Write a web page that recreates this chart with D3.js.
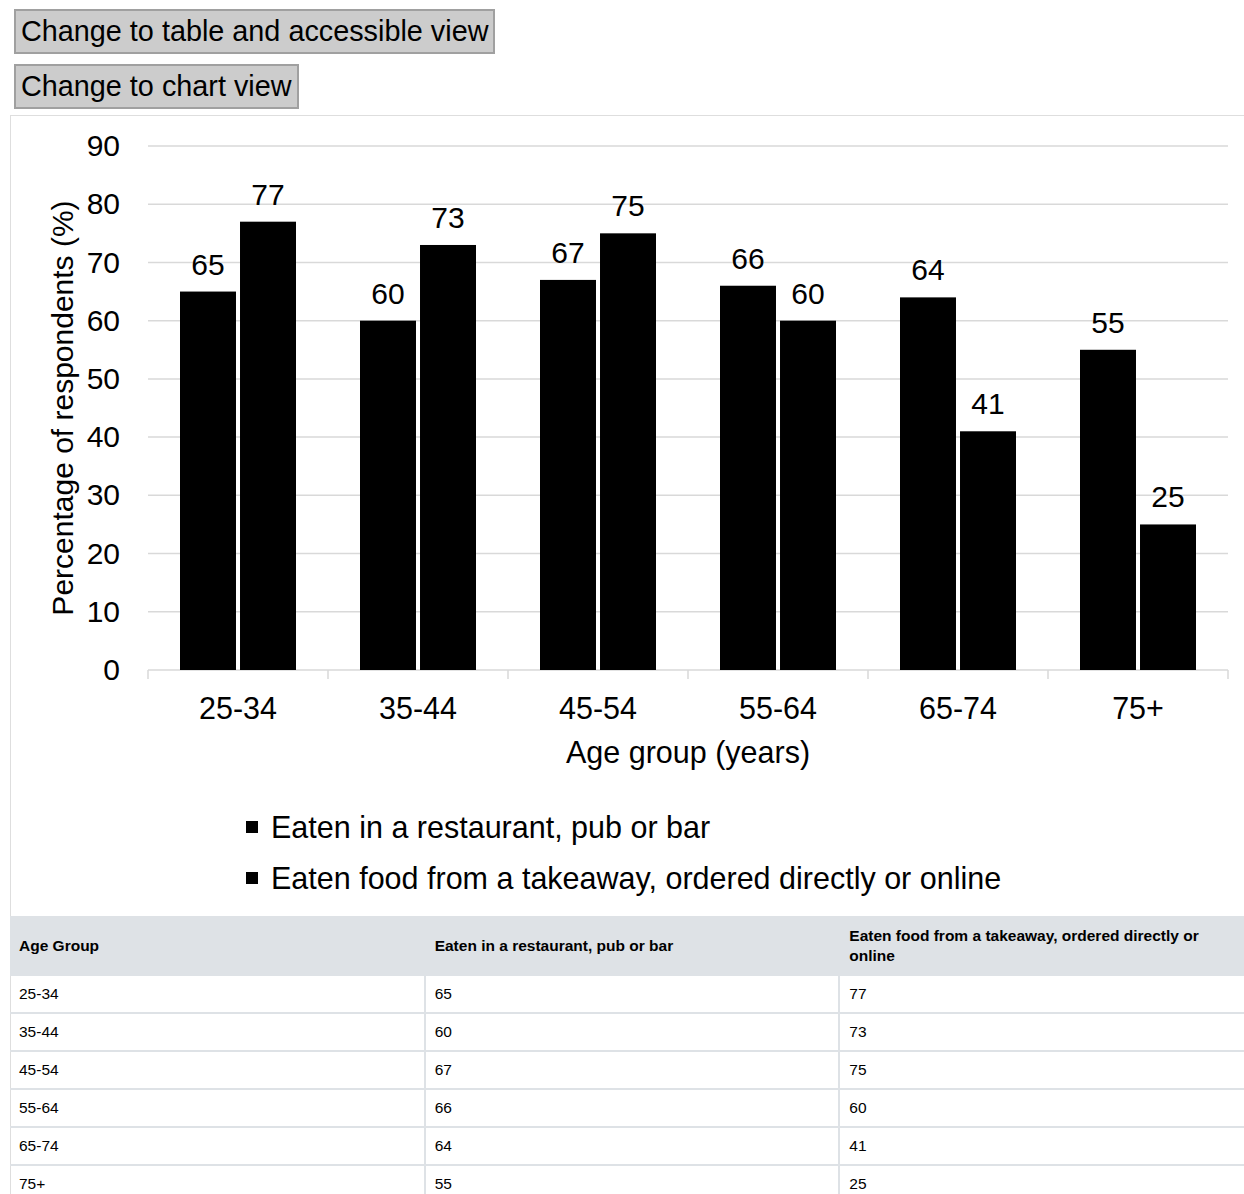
<!DOCTYPE html>
<html>
<head>
<meta charset="utf-8">
<script src="https://cdn.jsdelivr.net/npm/d3@7"></script>
<style>
  html, body { margin: 0; padding: 0; overflow: hidden; background: #fff; }
  body { width: 1244px; height: 1194px; position: relative; font-family: "Liberation Sans", Arial, sans-serif; color: #000; }
  .btn {
    position: absolute; left: 14px; height: 45px; box-sizing: border-box;
    background: #cccccc; border: 2px solid #a0a0a0; font-family: inherit;
    font-size: 28.8px; line-height: 41px; padding: 0 5px; color: #000; white-space: nowrap;
  }
  #wrap { position: absolute; left: 10px; top: 115px; width: 1260px; height: 1100px;
    border: 1px solid #dedede; box-sizing: border-box; }
  #chart { position: absolute; left: 0; top: 0; }
  table { position: absolute; left: 10px; top: 916px; width: 1245px; border-collapse: collapse;
    table-layout: fixed; font-size: 15.5px; }
  th, td { text-align: left; padding: 0 9px; border: 2px solid #dee2e6; vertical-align: middle; }
  thead th { background: #dee2e6; height: 56px; font-weight: bold; line-height: 20px; border-left-color: #eceef0; }
  td { height: 36px; border-top: none; }
  tr td:first-child, tr th:first-child { border-left: none; }
</style>
</head>
<body>
<div class="btn" style="top:9px;">Change to table and accessible view</div>
<div class="btn" style="top:64px;">Change to chart view</div>
<div id="wrap"></div>
<svg id="chart" width="1244" height="915"></svg>
<table id="tbl"></table>
<script>
// Age groups and survey results (percentage of respondents)
const ageGroups = ["25-34", "35-44", "45-54", "55-64", "65-74", "75+"];
const seriesNames = ["Eaten in a restaurant, pub or bar", "Eaten food from a takeaway, ordered directly or online"];
const restaurant = [65, 60, 67, 66, 64, 55];
const takeaway = [77, 73, 75, 60, 41, 25];
const yTicks = [0, 10, 20, 30, 40, 50, 60, 70, 80, 90];
const tableHeaders = ["Age Group", "Eaten in a restaurant, pub or bar", "Eaten food from a takeaway, ordered directly or online"];

const seriesValues = [restaurant, takeaway];
const font = '"Liberation Sans", Arial, sans-serif';

const svg = d3.select("#chart").style("font-family", font);

const plot = { left: 148, right: 1228, top: 146, bottom: 670 };

const x0 = d3.scaleBand().domain(ageGroups).range([plot.left, plot.right]).padding(0);
const x1 = d3.scaleBand().domain(d3.range(seriesNames.length))
  .range([32, x0.bandwidth() - 32]).paddingInner(0.067).paddingOuter(0);
const y = d3.scaleLinear().domain([0, 90]).range([plot.bottom, plot.top]);

// Horizontal gridlines
svg.append("g").selectAll("line").data(yTicks.filter(d => d > 0)).join("line")
  .attr("x1", plot.left).attr("x2", plot.right)
  .attr("y1", d => y(d)).attr("y2", d => y(d))
  .attr("stroke", "#d9d9d9").attr("stroke-width", 1.5);

// Y axis labels
const yAxis = d3.axisLeft(y).tickValues(yTicks).tickSize(0).tickPadding(28);
const yg = svg.append("g").attr("transform", `translate(${plot.left},0)`).call(yAxis);
yg.select(".domain").remove();
yg.selectAll("text").attr("font-size", 30).attr("font-family", font).attr("fill", "#000");

// X axis with category boundary ticks
const xg = svg.append("g");
xg.append("line").attr("x1", plot.left).attr("x2", plot.right)
  .attr("y1", plot.bottom).attr("y2", plot.bottom)
  .attr("stroke", "#d9d9d9").attr("stroke-width", 1.5);
const boundaries = ageGroups.map(d => x0(d)).concat([plot.right]);
xg.selectAll("line.tick").data(boundaries).join("line").attr("class", "tick")
  .attr("x1", d => d).attr("x2", d => d)
  .attr("y1", plot.bottom).attr("y2", plot.bottom + 9)
  .attr("stroke", "#d9d9d9").attr("stroke-width", 1.5);
const xAxis = d3.axisBottom(x0).tickSize(0).tickPadding(27);
const xl = svg.append("g").attr("transform", `translate(0,${plot.bottom})`).call(xAxis);
xl.select(".domain").remove();
xl.selectAll("text").attr("font-size", 30.5).attr("font-family", font).attr("fill", "#000");

// Bars
const groups = svg.append("g").selectAll("g").data(ageGroups).join("g")
  .attr("transform", d => `translate(${x0(d)},0)`);
groups.selectAll("rect")
  .data((d, i) => seriesValues.map((vals, s) => ({ s, v: vals[i] })))
  .join("rect")
  .attr("x", d => x1(d.s)).attr("width", x1.bandwidth())
  .attr("y", d => y(d.v)).attr("height", d => y(0) - y(d.v))
  .attr("fill", "#000");

// Value labels
groups.selectAll("text.val")
  .data((d, i) => seriesValues.map((vals, s) => ({ s, v: vals[i] })))
  .join("text").attr("class", "val")
  .attr("x", d => x1(d.s) + x1.bandwidth() / 2)
  .attr("y", d => y(d.v) - 17)
  .attr("text-anchor", "middle").attr("font-size", 30).attr("fill", "#000")
  .text(d => d.v);

// Axis titles
svg.append("text")
  .attr("transform", `translate(62,${(plot.top + plot.bottom) / 2}) rotate(-90)`)
  .attr("text-anchor", "middle").attr("dominant-baseline", "central")
  .attr("font-size", 30).attr("fill", "#000")
  .text("Percentage of respondents (%)");
svg.append("text")
  .attr("x", (plot.left + plot.right) / 2).attr("y", 763)
  .attr("text-anchor", "middle").attr("font-size", 30.5).attr("fill", "#000")
  .text("Age group (years)");

// Legend
const legend = svg.append("g").selectAll("g").data(seriesNames).join("g")
  .attr("transform", (d, i) => `translate(246,${827 + i * 51})`);
legend.append("rect").attr("x", 0).attr("y", -6).attr("width", 12).attr("height", 12).attr("fill", "#000");
legend.append("text").attr("x", 25).attr("y", 0).attr("dominant-baseline", "central")
  .attr("font-size", 30.5).attr("fill", "#000").text(d => d);

// Data table
const tbl = d3.select("#tbl");
tbl.append("thead").append("tr").selectAll("th").data(tableHeaders).join("th").text(d => d);
tbl.append("tbody").selectAll("tr").data(ageGroups).join("tr")
  .selectAll("td").data((d, i) => [d, restaurant[i], takeaway[i]]).join("td").text(d => d);
</script>
</body>
</html>
